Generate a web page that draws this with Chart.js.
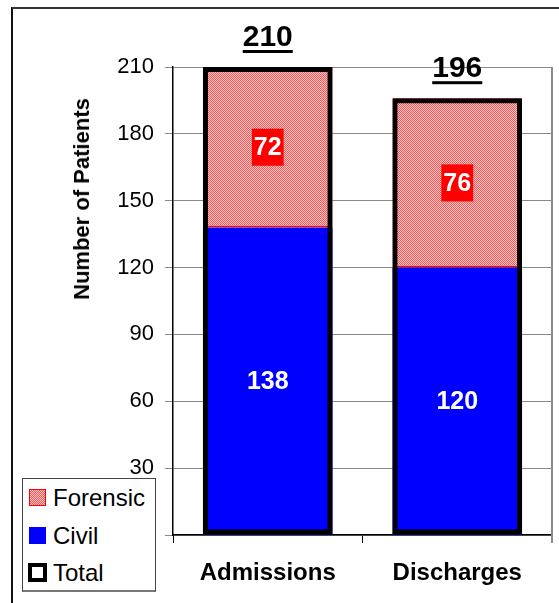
<!DOCTYPE html>
<html>
<head>
<meta charset="utf-8">
<script src="https://cdn.jsdelivr.net/npm/chart.js@4/dist/chart.umd.min.js"></script>
<style>
  html, body { margin: 0; padding: 0; background: #fff; }
  #wrap { position: relative; width: 559px; height: 603px; overflow: hidden;
          font-family: "Liberation Sans", Arial, sans-serif; color: #000; }
  #frame { position: absolute; left: 11px; top: 7px; width: 700px; height: 800px;
           border-left: 2px solid #111; border-top: 2px solid #333; }
  #chart { position: absolute; left: 0; top: 0; }
  #ytitle { position: absolute; left: 82px; top: 199px; white-space: nowrap;
            transform: translate(-50%, -50%) rotate(-90deg);
            font-weight: bold; font-size: 22px; }
  #legend { position: absolute; left: 22px; top: 478px; width: 132px; height: 111px;
            background: #fff; border: 1px solid #444; border-bottom: 2px solid #777; }
  #legend .item { position: absolute; left: 0; height: 24px; line-height: 24px;
                  font-size: 24px; white-space: nowrap; }
  #legend .sw { position: absolute; box-sizing: border-box; }
  #legend .txt { position: absolute; left: 30px; top: 0; }
</style>
</head>
<body>
<div id="wrap">
  <div id="frame"></div>
  <canvas id="chart" width="559" height="603"></canvas>
  <div id="ytitle">Number of Patients</div>
  <div id="legend">
    <div class="item" style="top:7px"><span class="sw" style="left:6px;top:3px;width:17px;height:17px;border:1px solid #f00;background:repeating-conic-gradient(#ff5252 0 25%, #ffcccc 0 50%) 0 0/2px 2px;"></span><span class="txt">Forensic</span></div>
    <div class="item" style="top:45px"><span class="sw" style="left:6px;top:3px;width:17px;height:17px;background:#0000ff;"></span><span class="txt">Civil</span></div>
    <div class="item" style="top:82px"><span class="sw" style="left:5px;top:2px;width:19px;height:19px;border:4px solid #000;background:#fff;"></span><span class="txt">Total</span></div>
  </div>
</div>
<script>
// Patient counts per category
const categories = ['Admissions', 'Discharges'];
const civil = [138, 120];
const forensic = [72, 76];
const total = [210, 196];
const yTicks = [0, 30, 60, 90, 120, 150, 180, 210];

const FONT = '"Liberation Sans", Arial, sans-serif';

// Red/white 50% checker fill for the forensic segments
function checkerPattern() {
  const c = document.createElement('canvas');
  c.width = 2; c.height = 2;
  const g = c.getContext('2d');
  g.fillStyle = '#ffcccc'; g.fillRect(0, 0, 2, 2);
  g.fillStyle = '#ff5252'; g.fillRect(0, 0, 1, 1); g.fillRect(1, 1, 1, 1);
  return g.createPattern(c, 'repeat');
}

// Value labels: totals above the outline, segment values centred in each segment
const valueLabels = {
  id: 'valueLabels',
  afterDatasetsDraw(chart) {
    const ctx = chart.ctx;
    chart.data.datasets.forEach((ds, di) => {
      const meta = chart.getDatasetMeta(di);
      meta.data.forEach((bar, i) => {
        const txt = String(ds.data[i]);
        const p = bar.getProps(['x', 'y', 'base'], true);
        ctx.save();
        ctx.textAlign = 'center';
        if (ds.label === 'Total') {
          ctx.font = 'bold 30px ' + FONT;
          ctx.textBaseline = 'alphabetic';
          ctx.fillStyle = '#000';
          const by = p.y - 21;
          ctx.fillText(txt, p.x, by);
          const w = ctx.measureText(txt).width;
          ctx.fillRect(p.x - w / 2, by + 4, w, 3);
        } else {
          ctx.font = 'bold 25px ' + FONT;
          ctx.textBaseline = 'middle';
          const cy = (p.y + p.base) / 2;
          if (ds.label === 'Forensic') {
            const w = ctx.measureText(txt).width;
            ctx.fillStyle = '#ff0000';
            ctx.fillRect(p.x - w / 2 - 2, cy - 18.5, w + 4, 37);
          }
          ctx.fillStyle = '#fff';
          ctx.fillText(txt, p.x, cy + 1);
        }
        ctx.restore();
      });
    });
  }
};

// Right-hand edge of the plot area
const plotEdge = {
  id: 'plotEdge',
  beforeDatasetsDraw(chart) {
    const { ctx, chartArea: a } = chart;
    ctx.save();
    ctx.strokeStyle = '#8a8a8a';
    ctx.lineWidth = 2;
    ctx.beginPath();
    ctx.moveTo(a.right, a.top);
    ctx.lineTo(a.right, a.bottom + 8);
    ctx.stroke();
    ctx.restore();
  }
};

new Chart(document.getElementById('chart'), {
  type: 'bar',
  data: {
    labels: categories,
    datasets: [
      { label: 'Total', data: total, stack: 'total', order: 0,
        backgroundColor: 'rgba(0,0,0,0)', borderColor: '#000',
        borderWidth: 5, borderSkipped: false },
      { label: 'Civil', data: civil, stack: 'parts', order: 1,
        backgroundColor: '#0000ff', borderWidth: 0 },
      { label: 'Forensic', data: forensic, stack: 'parts', order: 2,
        backgroundColor: checkerPattern(), borderColor: '#ff0000',
        borderWidth: 2, borderSkipped: false }
    ]
  },
  options: {
    responsive: false,
    animation: false,
    devicePixelRatio: 1,
    grouped: false,
    barPercentage: 0.684,
    categoryPercentage: 1,
    layout: { padding: { top: 67, right: 7, left: 0, bottom: 0 } },
    plugins: { legend: { display: false }, tooltip: { enabled: false } },
    scales: {
      x: {
        stacked: true,
        grid: { display: true, drawOnChartArea: false, drawTicks: true,
                tickLength: 8, tickColor: '#000', offset: true },
        border: { display: true, color: '#000', width: 1.5 },
        ticks: { color: '#000', padding: 16, font: { family: FONT, size: 24, weight: 'bold' } },
        afterFit(scale) { scale.height = 68; }
      },
      y: {
        stacked: true,
        min: 0, max: 210,
        afterBuildTicks(scale) { scale.ticks = yTicks.map(v => ({ value: v })); },
        grid: { color: '#8a8a8a', lineWidth: 1, tickLength: 8, tickColor: '#8a8a8a' },
        border: { display: true, color: '#000', width: 1.5 },
        ticks: { color: '#000', padding: 11, font: { family: FONT, size: 22 } },
        afterFit(scale) { scale.width = 173; }
      }
    }
  },
  plugins: [plotEdge, valueLabels]
});
</script>
</body>
</html>
